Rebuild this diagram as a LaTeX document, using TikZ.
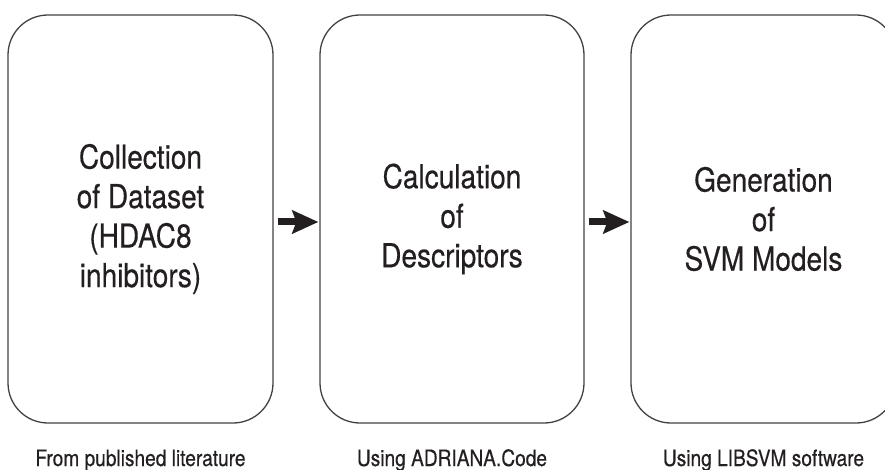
\documentclass[tikz,border=0pt]{standalone}
\usepackage{fontspec}
\setmainfont[FakeStretch=0.85,FakeBold=0.4]{TeX Gyre Heros}
\usetikzlibrary{arrows.meta}
\definecolor{ink}{HTML}{231F20}
\tikzset{
  stagebox/.style={draw=ink!85, line width=1.3pt, rounded corners=40pt,
    minimum width=265pt, minimum height=408pt, inner sep=0pt,
    align=center, font=\fontsize{33}{39.5}\selectfont, text=ink},
  note/.style={font=\fontsize{22.5}{27}\selectfont, text=ink, anchor=base},
  flow/.style={draw=ink, line width=7pt,
    -{Stealth[length=26pt,width=23pt,inset=4pt]}}
}
\begin{document}
\begin{tikzpicture}[x=1pt,y=-1pt]
\useasboundingbox (0,0) rectangle (885,470);
\clip (0,0) rectangle (885,470);
\node[stagebox] (b1) at (140.5,219) {Collection\\of Dataset\\(HDAC8\\inhibitors)};
\node[stagebox, minimum width=264pt] (b2) at (452,219) {Calculation\\of\\Descriptors};
\node[stagebox] (b3) at (763.5,219) {Generation\\of\\SVM Models};
\node[note] (n1) at (140.5,466) {From published literature};
\node[note] (n2) at (452,466) {Using ADRIANA.Code};
\node[note] (n3) at (763.5,466) {Using LIBSVM software};
\draw[flow] ([xshift=4pt,yshift=-3pt]b1.east) -- ([xshift=-1pt,yshift=-3pt]b2.west);
\draw[flow] ([xshift=4pt,yshift=-3pt]b2.east) -- ([xshift=-1pt,yshift=-3pt]b3.west);
\end{tikzpicture}
\end{document}
